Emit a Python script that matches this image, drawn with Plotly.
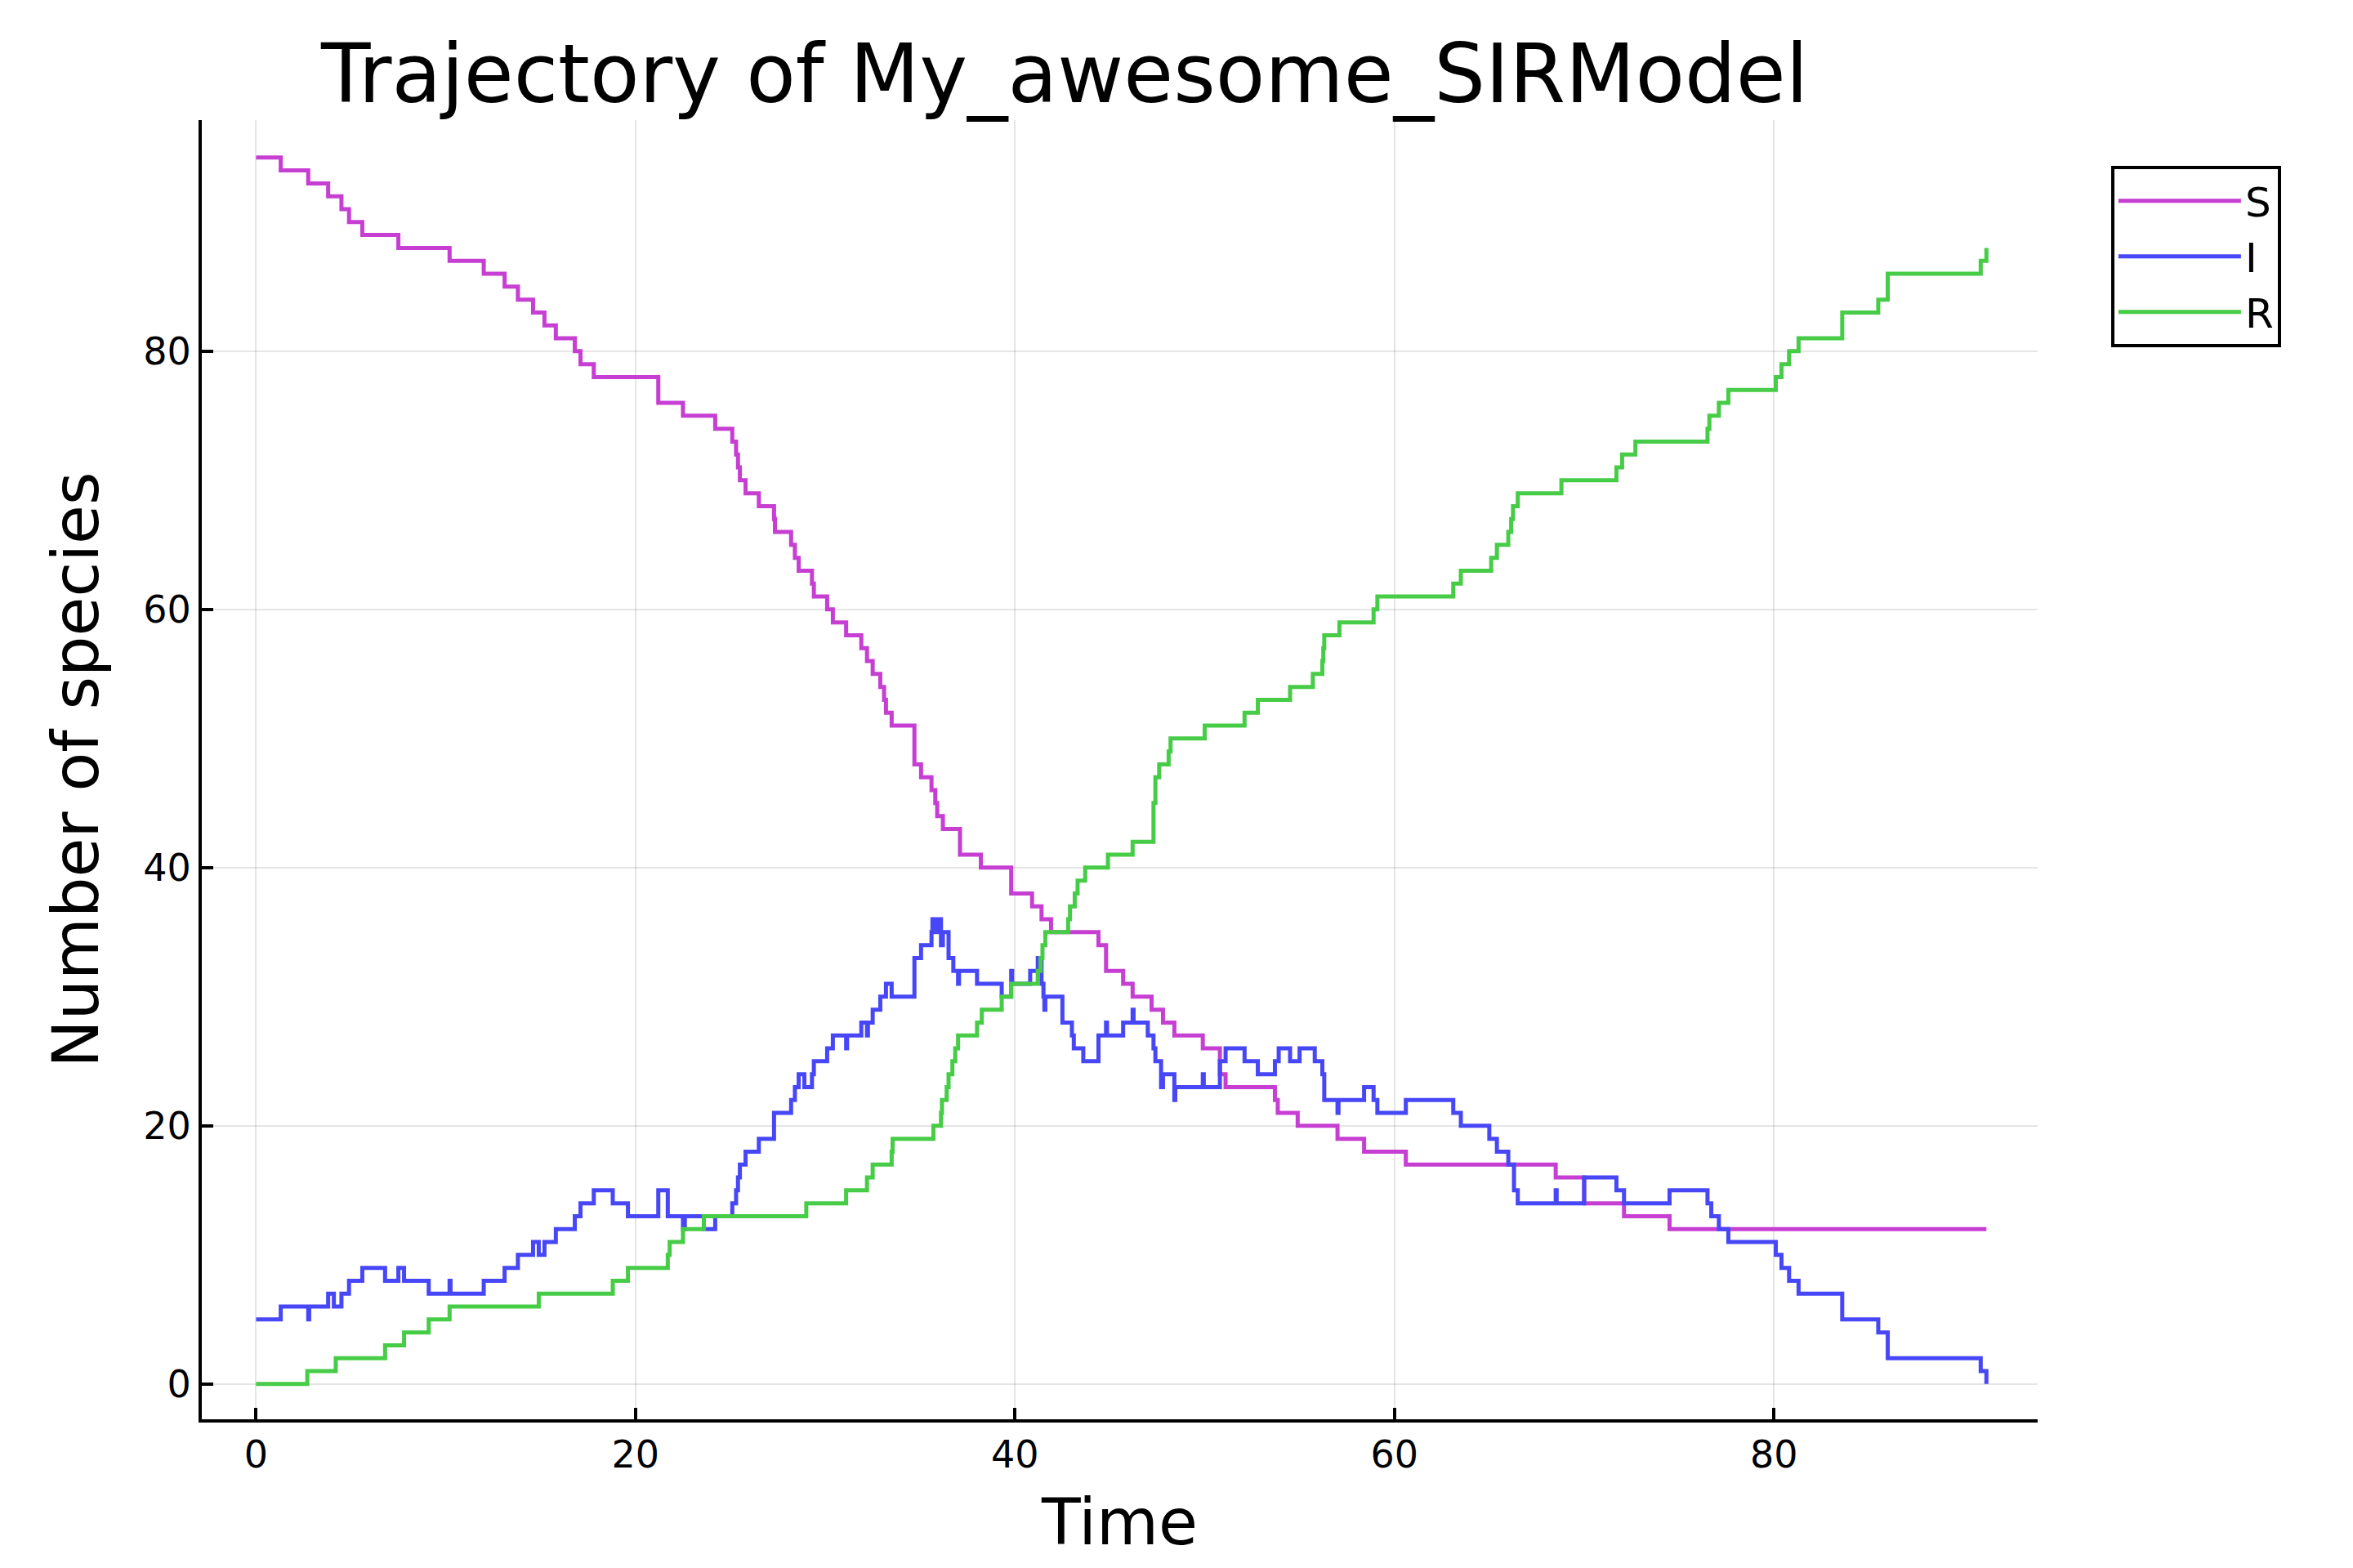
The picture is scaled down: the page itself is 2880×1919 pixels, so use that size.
import plotly.graph_objects as go

# S trajectory (time of change, value after change)
s_t = [0, 1.3, 2.75, 3.8, 4.5, 4.9, 5.6, 7.5, 10.2, 12.0, 13.1, 13.8, 14.6, 15.2, 15.8, 16.8, 17.1, 17.8,
       21.2, 22.5, 24.2, 25.1, 25.3, 25.4, 25.5, 25.8, 26.5, 27.3, 27.35, 28.2, 28.4, 28.6, 29.3, 29.4, 30.1,
       30.4, 31.1, 31.9, 32.2, 32.5, 32.9, 33.1, 33.2, 33.5, 34.7, 35.05, 35.6, 35.8, 35.9, 36.2, 37.1, 38.2,
       39.8, 40.9, 41.4, 41.9, 44.4, 44.8, 45.7, 46.2, 47.2, 47.8, 48.4, 49.9, 50.8, 51.1, 53.7, 53.85,
       54.9, 57.0, 58.4, 60.6, 68.5, 70.0, 72.1, 74.5, 91.2]
s_v = [95, 94, 93, 92, 91, 90, 89, 88, 87, 86, 85, 84, 83, 82, 81, 80, 79, 78,
       76, 75, 74, 73, 72, 71, 70, 69, 68, 67, 66, 65, 64, 63, 62, 61, 60,
       59, 58, 57, 56, 55, 54, 53, 52, 51, 48, 47, 46, 45, 44, 43, 41, 40,
       38, 37, 36, 35, 34, 32, 31, 30, 29, 28, 27, 26, 24, 23, 22, 21,
       20, 19, 18, 17, 16, 14, 13, 12, 12]

# I trajectory
i_t = [0, 1.3, 2.75, 2.8, 3.8, 4.1, 4.5, 4.9, 5.6, 6.8, 7.5, 7.8, 9.1, 10.2, 10.25, 12.0, 13.1, 13.8, 14.6,
       14.9, 15.2, 15.8, 16.8, 17.1, 17.8, 18.8, 19.6, 21.2, 21.7, 22.5, 22.6, 23.6, 24.2, 25.1, 25.3, 25.4,
       25.5, 25.8, 26.5, 27.3, 28.2, 28.4, 28.6, 28.9, 29.3, 29.4, 30.1, 30.4, 31.1, 31.15, 31.9, 32.2, 32.25,
       32.5, 32.9, 33.2, 33.5, 34.7, 35.05, 35.6, 35.65, 35.8, 35.9, 36.1, 36.2, 36.5, 36.75, 37.0, 37.05,
       38.0, 39.3, 39.8, 39.85, 40.8, 41.2, 41.4, 41.5, 41.55, 41.6, 42.5, 43.0, 43.1, 43.6, 44.4, 44.8,
       44.85, 45.7, 46.2, 46.25, 47.0, 47.3, 47.4, 47.7, 47.8, 48.4, 48.45, 49.9, 49.95, 50.8, 51.1, 52.1,
       52.8, 53.7, 53.9, 54.5, 55.0, 55.8, 56.2, 56.3, 57.0, 57.05, 58.4, 58.9, 59.1, 60.6, 63.1, 63.5, 65.0,
       65.4, 66.0, 66.3, 66.5, 68.5, 68.55, 70.0, 71.7, 72.1, 74.5, 76.5, 76.7, 77.1, 77.6, 80.1, 80.4, 80.8,
       81.3, 83.6, 85.5, 86.0, 90.9, 91.2]
i_v = [5, 6, 5, 6, 7, 6, 7, 8, 9, 8, 9, 8, 7, 8, 7, 8, 9, 10, 11,
       10, 11, 12, 13, 14, 15, 14, 13, 15, 13, 12, 13, 12, 13, 14, 15, 16,
       17, 18, 19, 21, 22, 23, 24, 23, 24, 25, 26, 27, 26, 27, 28, 27, 28,
       29, 30, 31, 30, 33, 34, 35, 36, 35, 36, 34, 35, 33, 32, 31, 32,
       31, 30, 32, 31, 32, 33, 31, 30, 29, 30, 28, 27, 26, 25, 27, 28,
       27, 28, 29, 28, 27, 26, 25, 23, 24, 22, 23, 24, 23, 25, 26, 25,
       24, 25, 26, 25, 26, 25, 24, 22, 21, 22, 23, 22, 21, 22, 21, 20, 19,
       18, 17, 15, 14, 15, 14, 16, 15, 14, 15, 14, 13, 12, 11, 10, 9, 8,
       7, 5, 4, 2, 1, 0]

# R trajectory
r_t = [0, 2.7, 4.2, 6.8, 7.8, 9.1, 10.2, 14.9, 18.8, 19.6, 21.7, 21.8, 22.5, 23.6, 29.0, 31.1, 32.2, 32.5,
       33.5, 33.55, 35.7, 36.1, 36.15, 36.4, 36.5, 36.7, 36.85, 37.0, 38.0, 38.25, 39.3, 39.8, 41.2, 41.35,
       41.45, 41.6, 42.8, 42.9, 43.15, 43.3, 43.7, 44.9, 46.2, 47.3, 47.4, 47.6, 48.1, 48.2, 50.0, 52.1,
       52.8, 54.5, 55.7, 56.2, 56.25, 56.3, 57.1, 58.9, 59.1, 63.1, 63.5, 65.1, 65.4, 66.0, 66.15, 66.25,
       66.5, 68.8, 71.7, 72.0, 72.7, 76.5, 76.6, 77.1, 77.6, 80.1, 80.4, 80.8, 81.3, 83.6, 85.5, 86.0,
       90.9, 91.2]
r_v = [0, 1, 2, 3, 4, 5, 6, 7, 8, 9, 10, 11, 12, 13, 14, 15, 16, 17,
       18, 19, 20, 21, 22, 23, 24, 25, 26, 27, 28, 29, 30, 31, 32, 33,
       34, 35, 36, 37, 38, 39, 40, 41, 42, 45, 47, 48, 49, 50, 51, 52,
       53, 54, 55, 56, 57, 58, 59, 60, 61, 62, 63, 64, 65, 66, 67, 68,
       69, 70, 71, 72, 73, 74, 75, 76, 77, 78, 79, 80, 81, 83, 84, 86,
       87, 88]

x_ticks = [0, 20, 40, 60, 80]
y_ticks = [0, 20, 40, 60, 80]

FONT = "DejaVu Sans"
fig = go.Figure()
for name, t, v, c in [("S", s_t, s_v, "#c63fd2"), ("I", i_t, i_v, "#4747f7"), ("R", r_t, r_v, "#47cc47")]:
    fig.add_trace(go.Scatter(x=t, y=v, mode="lines", name=name, line=dict(color=c, width=5, shape="hv")))

axis_common = dict(showline=True, linecolor="black", linewidth=4, mirror=False, ticks="inside",
                   ticklen=14, tickwidth=4, tickcolor="black", showgrid=True, gridcolor="rgba(0,0,0,0.1)",
                   gridwidth=2, zeroline=False, tickfont=dict(size=46, family=FONT, color="black"))
fig.update_layout(
    width=2880, height=1919, paper_bgcolor="white", plot_bgcolor="white",
    margin=dict(l=239, r=394, t=139, b=190),
    title=dict(text="Trajectory of My_awesome_SIRModel", x=0.47, xref="paper", xanchor="center",
               y=0.975, yanchor="top", font=dict(size=99, family=FONT, color="black")),
    xaxis=dict(range=[-2.86, 93.9], tickvals=x_ticks,
               title=dict(text="Time", font=dict(size=78, family=FONT, color="black"), standoff=30),
               **axis_common),
    yaxis=dict(range=[-2.73, 97.9], tickvals=y_ticks,
               title=dict(text="Number of species", font=dict(size=78, family=FONT, color="black"), standoff=30),
               **axis_common),
    legend=dict(x=1.04, y=0.965, xanchor="left", yanchor="top", bordercolor="black", borderwidth=4,
                font=dict(size=50, family=FONT, color="black"), itemwidth=150, tracegroupgap=0),
)
fig.write_html("out.html")
